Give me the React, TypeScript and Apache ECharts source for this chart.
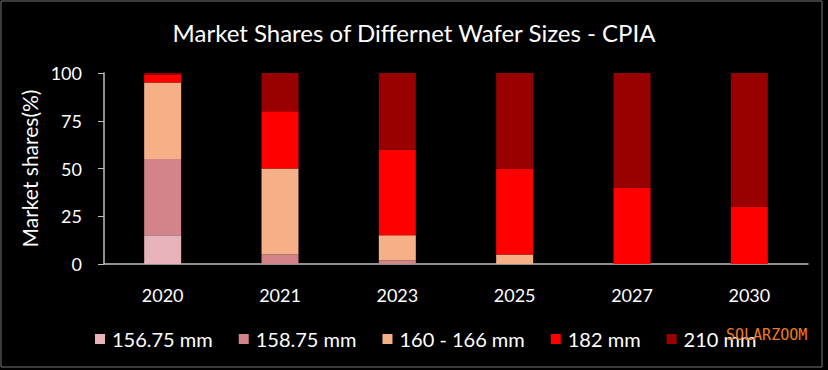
import React, { useEffect, useRef } from "react";
import * as echarts from "echarts";

const years = ["2020", "2021", "2023", "2025", "2027", "2030"];
const seriesNames = ["156.75 mm", "158.75 mm", "160 - 166 mm", "182 mm", "210 mm"];
const s15675 = [15, 0, 0, 0, 0, 0];
const s15875 = [40, 5, 2, 0, 0, 0];
const s160166 = [40, 45, 13, 5, 0, 0];
const s182 = [4, 30, 45, 45, 40, 30];
const s210 = [1, 20, 40, 50, 60, 70];
const colors = ["#e6b3b8", "#d3838a", "#f5b088", "#ff0000", "#990000"];
const yTicks = [0, 25, 50, 75, 100];

const FONT = "Lato";

export default function App() {
  const ref = useRef<HTMLDivElement>(null);
  useEffect(() => {
    document.body.style.margin = "0";
    const chart = echarts.init(ref.current!, null, { renderer: "svg" });
    const data = [s15675, s15875, s160166, s182, s210];
    chart.setOption({
      animation: false,
      backgroundColor: "#000000",
      title: {
        text: "Market Shares of Differnet Wafer Sizes - CPIA",
        left: "center",
        top: 15,
        textStyle: { color: "#ffffff", fontFamily: FONT, fontSize: 24, fontWeight: "normal" },
      },
      legend: {
        top: 324,
        left: 90,
        itemWidth: 10,
        itemHeight: 10,
        itemGap: 26,
        icon: "rect",
        textStyle: { color: "#ffffff", fontFamily: FONT, fontSize: 20, padding: [0, 0, 0, 2] },
        data: seriesNames,
      },
      grid: { left: 104, right: 20, top: 73, bottom: 106 },
      xAxis: {
        type: "category",
        data: years,
        axisLine: { lineStyle: { color: "#bfbfbf", width: 1.5 } },
        axisTick: { show: false },
        axisLabel: { color: "#ffffff", fontFamily: FONT, fontSize: 18, margin: 22 },
      },
      yAxis: {
        type: "value",
        min: yTicks[0],
        max: yTicks[yTicks.length - 1],
        interval: 25,
        name: "Market shares(%)",
        nameLocation: "middle",
        nameGap: 55,
        nameTextStyle: { color: "#ffffff", fontFamily: FONT, fontSize: 21 },
        axisLine: { show: true, lineStyle: { color: "#bfbfbf", width: 1.5 } },
        axisTick: { show: true, length: 6, lineStyle: { color: "#bfbfbf" } },
        splitLine: { show: false },
        axisLabel: { color: "#ffffff", fontFamily: FONT, fontSize: 18, margin: 22 },
      },
      series: seriesNames.map((name, i) => ({
        name,
        type: "bar",
        stack: "total",
        barWidth: 37,
        itemStyle: { color: colors[i] },
        data: data[i],
      })),
      graphic: [
        {
          type: "rect",
          shape: { x: 1, y: 1, width: 821, height: 366 },
          style: { fill: "none", stroke: "#777777", lineWidth: 1 },
          silent: true,
        },
        {
          type: "text",
          left: 726,
          top: 327,
          style: {
            text: "SOLARZOOM",
            fill: "#f07a22",
            font: "15px 'DejaVu Sans Mono'",
          },
          z: 100,
        },
      ],
    });
    return () => chart.dispose();
  }, []);
  return <div ref={ref} style={{ position: "absolute", left: 0, top: 0, width: 828, height: 370 }} />;
}
